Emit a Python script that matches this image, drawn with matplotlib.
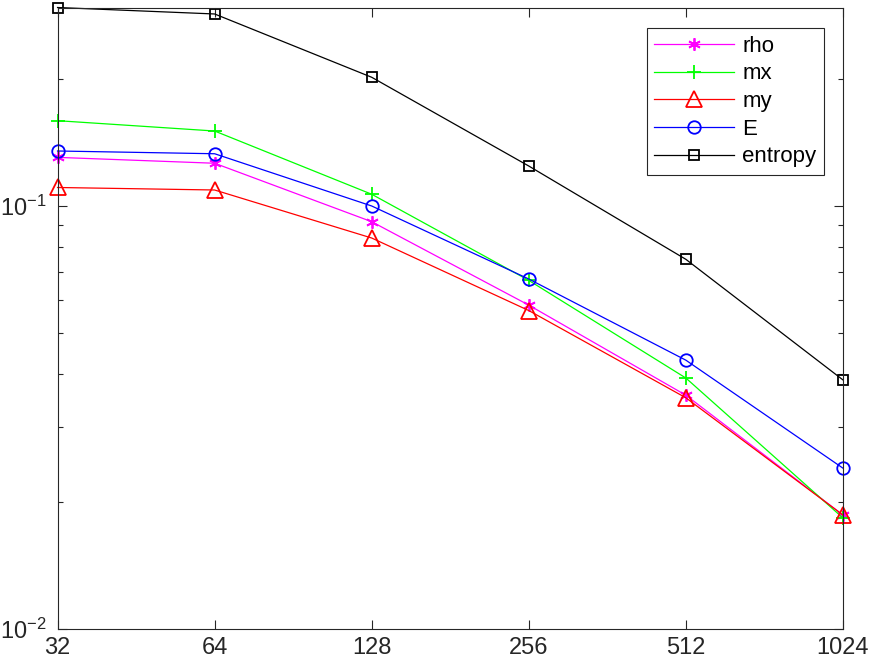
import numpy as np
import matplotlib.pyplot as plt
from matplotlib.ticker import FixedLocator, FixedFormatter, NullLocator

plt.rcParams['font.family'] = ['Liberation Sans', 'DejaVu Sans']
plt.rcParams['mathtext.fontset'] = 'custom'
plt.rcParams['mathtext.rm'] = 'Liberation Sans'

n = [32, 64, 128, 256, 512, 1024]
tick_labels = ['32', '64', '128', '256', '512', '1024']

rho = [0.1303, 0.1262, 0.0918, 0.0583, 0.0357, 0.0186]
mx = [0.1591, 0.1504, 0.1066, 0.0667, 0.0392, 0.0183]
my = [0.1106, 0.1091, 0.0840, 0.0566, 0.0352, 0.0186]
E = [0.1349, 0.1329, 0.1000, 0.0672, 0.0432, 0.0240]
entropy = [0.2946, 0.2844, 0.2015, 0.1243, 0.0748, 0.0388]

gray = '#262626'

fig = plt.figure(figsize=(8.72, 6.64), dpi=100)
ax = fig.add_axes([0.066, 0.0527, 0.9007, 0.936])

lw = 0.9
style = dict(lw=lw, clip_on=False, markeredgewidth=1.3)
ax.plot(n, rho, color=(1, 0, 1), marker=(6, 2, 0), markersize=9,
        label='rho', **style)
ax.plot(n, mx, color=(0, 1, 0), marker='+', markersize=10,
        label='mx', **style)
ax.plot(n, my, color=(1, 0, 0), marker='^', markersize=11,
        markerfacecolor='none', label='my', **style)
ax.plot(n, E, color=(0, 0, 1), marker='o', markersize=9,
        markerfacecolor='none', label='E', **style)
ax.plot(n, entropy, color='k', marker='s', markersize=7.5,
        markerfacecolor='none', label='entropy', **style)

ax.set_xscale('log', base=2)
ax.set_yscale('log')
ax.set_xlim(32, 1024)
ax.set_ylim(0.01, max(entropy))

ax.xaxis.set_major_locator(FixedLocator(n))
ax.xaxis.set_major_formatter(FixedFormatter(tick_labels))
ax.xaxis.set_minor_locator(NullLocator())

ax.tick_params(which='both', direction='in', top=True, right=True,
               colors=gray, labelsize=17)
ax.tick_params(which='major', length=6.5, width=0.8)
ax.tick_params(which='minor', length=3.6, width=0.8)
ax.tick_params(axis='x', pad=6)
ax.tick_params(axis='y', pad=8)
for s in ax.spines.values():
    s.set_color(gray)
    s.set_linewidth(0.8)

leg = ax.legend(loc='upper right', bbox_to_anchor=(824 / 872, 1 - 28 / 664),
                bbox_transform=fig.transFigure, fontsize=16, fancybox=False,
                framealpha=1, edgecolor=gray, handlelength=3.6,
                borderaxespad=0, borderpad=0.35, labelspacing=0.3,
                handletextpad=0.35)
leg.get_frame().set_linewidth(0.8)

fig.savefig('out.png', dpi=100)
